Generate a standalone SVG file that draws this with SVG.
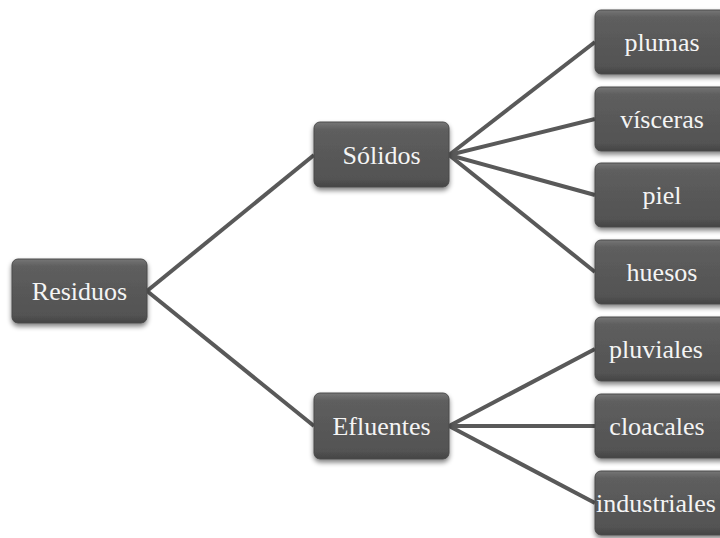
<svg xmlns="http://www.w3.org/2000/svg" width="720" height="538" viewBox="0 0 720 538">
<defs>
<linearGradient id="g" x1="0" y1="0" x2="0" y2="1">
<stop offset="0" stop-color="#767676"/>
<stop offset="0.12" stop-color="#5e5e5e"/>
<stop offset="0.88" stop-color="#535353"/>
<stop offset="1" stop-color="#444444"/>
</linearGradient>
<filter id="sh" x="-20%" y="-20%" width="140%" height="150%">
<feGaussianBlur in="SourceAlpha" stdDeviation="2.5"/>
<feOffset dx="0" dy="3" result="b"/>
<feComponentTransfer><feFuncA type="linear" slope="0.5"/></feComponentTransfer>
<feMerge><feMergeNode/><feMergeNode in="SourceGraphic"/></feMerge>
</filter>
</defs>
<style>
.box{fill:url(#g);stroke:#4a4a4a;stroke-width:1;filter:url(#sh)}
.t{font-family:"Liberation Serif","DejaVu Serif",serif;font-size:26px;fill:#f4f4f4;text-anchor:middle;dominant-baseline:central}
.c{stroke:#595959;stroke-width:4;fill:none}
</style>
<rect width="720" height="538" fill="#ffffff"/>
<g id="connectors">
<line class="c" x1="147" y1="291" x2="314" y2="155"/>
<line class="c" x1="147" y1="291" x2="314" y2="426"/>
<line class="c" x1="449" y1="155" x2="595" y2="42"/>
<line class="c" x1="449" y1="155" x2="595" y2="119"/>
<line class="c" x1="449" y1="155" x2="595" y2="195"/>
<line class="c" x1="449" y1="155" x2="595" y2="272"/>
<line class="c" x1="449" y1="426" x2="595" y2="349"/>
<line class="c" x1="449" y1="426" x2="595" y2="426"/>
<line class="c" x1="449" y1="426" x2="595" y2="503"/>
</g>
<g id="residuos"><rect class="box" x="12" y="259" width="135" height="64" rx="6"/><text class="t" x="79.5" y="291">Residuos</text></g>
<g id="solidos"><rect class="box" x="314" y="122" width="135" height="65" rx="6"/><text class="t" x="381.5" y="155">Sólidos</text></g>
<g id="efluentes"><rect class="box" x="314" y="393" width="135" height="66" rx="6"/><text class="t" x="381.5" y="426">Efluentes</text></g>
<g id="plumas"><rect class="box" x="595" y="10" width="135" height="64" rx="6"/><text class="t" x="662" y="42">plumas</text></g>
<g id="visceras"><rect class="box" x="595" y="87" width="135" height="64" rx="6"/><text class="t" x="662" y="119">vísceras</text></g>
<g id="piel"><rect class="box" x="595" y="163" width="135" height="64" rx="6"/><text class="t" x="662" y="195">piel</text></g>
<g id="huesos"><rect class="box" x="595" y="240" width="135" height="64" rx="6"/><text class="t" x="662" y="272">huesos</text></g>
<g id="pluviales"><rect class="box" x="595" y="317" width="135" height="64" rx="6"/><text class="t" x="656" y="349">pluviales</text></g>
<g id="cloacales"><rect class="box" x="595" y="394" width="135" height="64" rx="6"/><text class="t" x="657" y="426">cloacales</text></g>
<g id="industriales"><rect class="box" x="595" y="471" width="135" height="64" rx="6"/><text class="t" x="656" y="503">industriales</text></g>
</svg>
